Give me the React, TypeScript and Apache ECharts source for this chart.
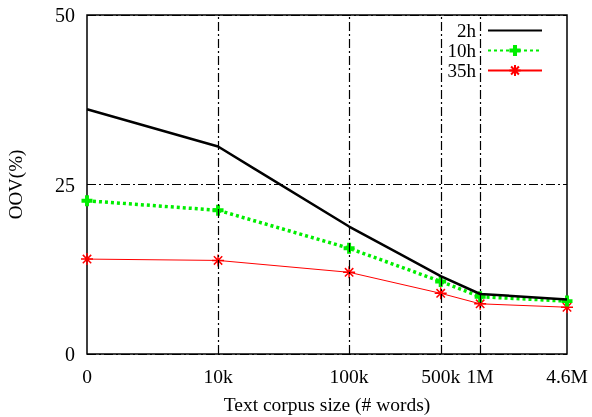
import React, { useEffect, useRef } from "react";
import * as echarts from "echarts";

const corpusWords = [0, 10000, 100000, 500000, 1000000, 4600000];
const tickLabels = ["0", "10k", "100k", "500k", "1M", "4.6M"];
const gridWords = [10000, 100000, 500000, 1000000];
const oov2h = [36.1, 30.6, 18.8, 11.5, 8.85, 8.05];
const oov10h = [22.6, 21.2, 15.6, 10.7, 8.45, 7.8];
const oov35h = [14.0, 13.8, 12.05, 8.95, 7.4, 6.9];
const yTicks = [0, 25, 50];

// "0" words is drawn at the 1k position of the log axis
const toPos = (w: number) => (w === 0 ? 3 : Math.log10(w));

const FONT = "Liberation Serif";
const PLUS = "path://M3.2,0H6.8V3.2H10V6.8H6.8V10H3.2V6.8H0V3.2H3.2Z";
const STAR = "path://M5,0V10M0,5H10M1.5,1.5L8.5,8.5M1.5,8.5L8.5,1.5";

export default function App() {
  const ref = useRef<HTMLDivElement>(null);
  useEffect(() => {
    if (!ref.current) return;
    const chart = echarts.init(ref.current, undefined, { renderer: "svg" });
    const xs = corpusWords.map(toPos);
    const pairs = (vals: number[]) => vals.map((v, i) => [xs[i], v]);
    const legendBase = {
      orient: "horizontal" as const,
      align: "right" as const,
      right: 49,
      padding: 0,
      itemWidth: 54,
      itemHeight: 14,
      textStyle: { fontSize: 19, fontFamily: FONT, color: "#000", padding: [0, 7, 0, 0] },
    };
    chart.setOption({
      animation: false,
      grid: {
        left: 87,
        right: 25,
        top: 15,
        bottom: 63,
        outerBoundsMode: "none",
        containLabel: false,
        show: true,
        borderColor: "#000",
        borderWidth: 1.5,
        backgroundColor: "transparent",
      },
      legend: [
        { ...legendBase, top: 21, data: [{ name: "2h", itemStyle: { opacity: 0 } }] },
        { ...legendBase, top: 41, data: ["10h"] },
        { ...legendBase, top: 61, data: ["35h"] },
      ],
      xAxis: {
        type: "value",
        min: 3,
        max: Math.log10(4600000),
        name: "Text corpus size (# words)",
        nameLocation: "middle",
        nameGap: 40,
        nameTextStyle: { fontSize: 19.5, fontFamily: FONT, color: "#000" },
        axisLine: { show: false },
        axisTick: { show: false },
        splitLine: { show: false },
        axisLabel: {
          customValues: xs,
          margin: 12,
          fontSize: 19.5,
          fontFamily: FONT,
          color: "#000",
          formatter: (v: number) => {
            const i = xs.findIndex((p) => Math.abs(p - v) < 1e-6);
            return i >= 0 ? tickLabels[i] : "";
          },
        },
      },
      yAxis: {
        type: "value",
        min: yTicks[0],
        max: yTicks[yTicks.length - 1],
        interval: 25,
        name: "OOV(%)",
        nameLocation: "middle",
        nameGap: 62,
        nameRotate: 90,
        nameTextStyle: { fontSize: 19, fontFamily: FONT, color: "#000" },
        axisLine: { show: false },
        axisTick: { show: false },
        axisLabel: { margin: 12, fontSize: 20, fontFamily: FONT, color: "#000" },
        splitLine: { show: true, lineStyle: { color: "#000", width: 1, type: [9, 3, 2, 3] } },
      },
      series: [
        {
          name: "grid",
          type: "line",
          data: [],
          z: 1,
          markLine: {
            silent: true,
            symbol: "none",
            label: { show: false },
            lineStyle: { color: "#000", width: 1.2, type: [9, 3, 2, 3] },
            data: gridWords.map((w) => ({ xAxis: toPos(w) })),
          },
        },
        {
          name: "35h",
          type: "line",
          z: 3,
          data: pairs(oov35h),
          symbol: STAR,
          symbolSize: 12,
          lineStyle: { color: "#ff0000", width: 1 },
          itemStyle: { color: "#ff0000", borderColor: "#ff0000", borderWidth: 1.5 },
        },
        {
          name: "10h",
          type: "line",
          z: 4,
          data: pairs(oov10h),
          symbol: PLUS,
          symbolSize: 11,
          lineStyle: { color: "#00ee00", width: 3.5, type: [3, 3] },
          itemStyle: { color: "#00ee00" },
        },
        {
          name: "2h",
          type: "line",
          z: 5,
          data: pairs(oov2h),
          symbol: "none",
          lineStyle: { color: "#000", width: 2.5 },
          itemStyle: { color: "#000" },
        },
      ],
    });
    return () => chart.dispose();
  }, []);
  return (
    <div
      ref={ref}
      style={{ position: "fixed", left: 0, top: 0, width: 592, height: 417 }}
    />
  );
}
